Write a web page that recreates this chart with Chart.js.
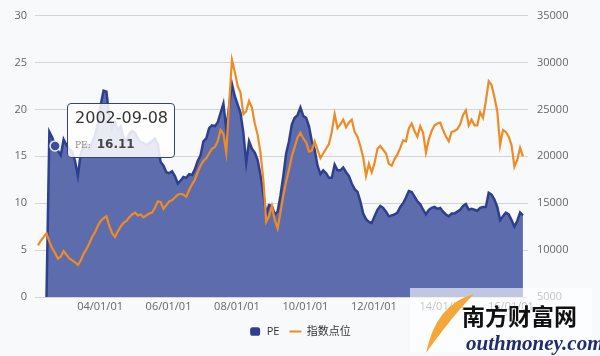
<!DOCTYPE html>
<html><head><meta charset="utf-8">
<script src="https://cdn.jsdelivr.net/npm/chart.js@4.4.0/dist/chart.umd.min.js"></script>
<style>
html,body{margin:0;padding:0;background:#f8f9fb;}
#wrap{position:relative;width:600px;height:356px;}
#tip{position:absolute;display:none;box-sizing:border-box;width:108px;height:55px;background:rgba(255,255,255,0.86);border:1.5px solid #34427c;border-radius:4px;padding:4px 0 0 7px;color:#333;pointer-events:none;}
#tip .t{font:16px 'DejaVu Sans',sans-serif;line-height:19px;}
#tip .b{margin-top:9px;line-height:14px;}
#tip .k{font:9px 'DejaVu Serif',serif;color:#888;}
#tip .v{font:bold 12px 'DejaVu Sans',sans-serif;color:#444;margin-left:6px;}
</style></head><body>
<div id="wrap"><canvas id="c" width="600" height="356"></canvas><div id="tip"></div></div>
<script>
const dates = [
 '2002-03-08','2002-04-08','2002-05-08','2002-06-08','2002-07-08','2002-08-08','2002-09-08','2002-10-08','2002-11-08','2002-12-08',
 '2003-01-08','2003-02-08','2003-03-08','2003-04-08','2003-05-08','2003-06-08','2003-07-08','2003-08-08','2003-09-08','2003-10-08','2003-11-08','2003-12-08',
 '2004-01-08','2004-02-08','2004-03-08','2004-04-08','2004-05-08','2004-06-08','2004-07-08','2004-08-08','2004-09-08','2004-10-08','2004-11-08','2004-12-08',
 '2005-01-08','2005-02-08','2005-03-08','2005-04-08','2005-05-08','2005-06-08','2005-07-08','2005-08-08','2005-09-08','2005-10-08','2005-11-08','2005-12-08',
 '2006-01-08','2006-02-08','2006-03-08','2006-04-08','2006-05-08','2006-06-08','2006-07-08','2006-08-08','2006-09-08','2006-10-08','2006-11-08','2006-12-08',
 '2007-01-08','2007-02-08','2007-03-08','2007-04-08','2007-05-08','2007-06-08','2007-07-08','2007-08-08','2007-09-08','2007-10-08','2007-11-08','2007-12-08',
 '2008-01-08','2008-02-08','2008-03-08','2008-04-08','2008-05-08','2008-06-08','2008-07-08','2008-08-08','2008-09-08','2008-10-08','2008-11-08','2008-12-08',
 '2009-01-08','2009-02-08','2009-03-08','2009-04-08','2009-05-08','2009-06-08','2009-07-08','2009-08-08','2009-09-08','2009-10-08','2009-11-08','2009-12-08',
 '2010-01-08','2010-02-08','2010-03-08','2010-04-08','2010-05-08','2010-06-08','2010-07-08','2010-08-08','2010-09-08','2010-10-08','2010-11-08','2010-12-08',
 '2011-01-08','2011-02-08','2011-03-08','2011-04-08','2011-05-08','2011-06-08','2011-07-08','2011-08-08','2011-09-08','2011-10-08','2011-11-08','2011-12-08',
 '2012-01-08','2012-02-08','2012-03-08','2012-04-08','2012-05-08','2012-06-08','2012-07-08','2012-08-08','2012-09-08','2012-10-08','2012-11-08','2012-12-08',
 '2013-01-08','2013-02-08','2013-03-08','2013-04-08','2013-05-08','2013-06-08','2013-07-08','2013-08-08','2013-09-08','2013-10-08','2013-11-08','2013-12-08',
 '2014-01-08','2014-02-08','2014-03-08','2014-04-08','2014-05-08','2014-06-08','2014-07-08','2014-08-08','2014-09-08','2014-10-08','2014-11-08','2014-12-08',
 '2015-01-08','2015-02-08','2015-03-08','2015-04-08','2015-05-08','2015-06-08','2015-07-08','2015-08-08','2015-09-08','2015-10-08','2015-11-08','2015-12-08',
 '2016-01-08','2016-02-08','2016-03-08','2016-04-08','2016-05-08'
];
const peValues = [
 null,null,null,0,17.6,17.0,16.11,15.6,15.1,16.8,
 16.2,15.8,15.5,14.5,12.9,15.3,16.0,16.3,15.8,16.5,17.2,18.5,
 20.5,22.0,21.9,19.2,18.0,18.6,17.8,18.2,17.0,16.6,17.4,17.7,
 17.5,16.9,16.5,16.4,16.2,16.4,16.6,16.9,16.3,14.4,14.0,13.3,
 13.2,13.4,12.9,12.1,12.4,12.8,12.7,13.1,13.0,13.6,14.5,15.1,
 16.6,16.9,18.0,18.3,18.2,18.6,19.6,20.6,17.9,20.3,22.7,21.4,
 20.5,19.6,17.5,14.3,16.6,15.8,15.4,14.6,13.0,11.0,8.8,9.8,
 9.7,8.8,9.1,10.8,12.9,15.3,16.6,18.4,19.1,19.4,20.2,19.3,
 19.1,18.2,16.6,15.7,14.0,13.1,13.5,13.2,12.7,12.7,14.1,13.5,
 13.5,13.8,13.3,12.9,12.1,11.5,11.2,10.2,8.9,8.3,8.0,7.9,
 8.6,9.3,9.7,9.5,9.1,8.6,8.7,8.8,9.0,9.6,10.0,10.6,
 11.3,11.2,10.7,10.2,9.9,9.3,8.8,9.3,9.5,9.6,9.4,9.5,
 9.1,8.8,8.6,8.9,8.9,9.1,9.3,9.7,9.9,9.3,9.4,9.3,
 9.2,9.5,9.6,9.6,11.1,10.9,10.4,9.6,8.2,8.6,9.0,8.8,
 8.2,7.5,8.1,9.0,8.7
];
const indexValues = [
 10500,11000,11400,11800,10900,10200,9700,9100,9300,9900,
 9500,9100,8900,8700,8400,8900,9600,10100,10700,11400,11900,12600,
 13100,13400,13600,12600,11800,11400,12000,12500,12900,13100,13500,13800,
 14000,13700,13800,13500,13700,13900,14000,14500,15200,15100,14400,14800,
 15200,15300,15600,15900,16000,15900,15700,16400,17000,17500,18300,19000,
 19500,19800,20300,20800,21000,21600,22800,22400,20400,25500,30300,29000,
 27500,26800,24500,24800,25900,25200,23500,22300,20400,17500,13000,13600,
 14700,13200,12300,14000,15800,17300,18600,20000,21000,22000,22500,21900,
 21500,20500,20600,21600,20700,19800,20300,20800,21300,22600,24500,23000,
 23400,23900,23100,23600,23900,22600,22100,21100,19900,17900,19200,18300,
 19300,20800,21100,20700,20300,19200,19000,19700,20200,20900,21700,21600,
 23000,23500,22700,22100,23200,22500,20400,21800,22700,23300,23500,23600,
 22800,22100,21600,22600,22700,22900,23400,24400,24900,23300,23900,23300,
 23300,24700,24100,25900,28000,27600,26300,24800,21200,22800,22600,22100,
 21200,18900,19600,20900,20000
];
const seriesNames = ['PE', '指数点位'];
const tickDates = ['2004-01-01','2006-01-01','2008-01-01','2010-01-01','2012-01-01','2014-01-01','2016-01-01'];
const tickLabels = ['04/01/01','06/01/01','08/01/01','10/01/01','12/01/01','14/01/01','16/01/01'];
const xRange = ['2002-02-07','2016-07-01'];
const highlightDate = '2002-09-08';

const PE_LINE = '#2f3f8f', PE_FILL = '#5d6cad', IDX = '#ef8b25';

function monthNum(d){ const p = d.split('-').map(Number); return (p[0]-2000)*12 + (p[1]-1) + (p[2]-1)/30.4; }

Chart.defaults.font.family = "'Open Sans','Noto Sans CJK SC',sans-serif";
Chart.defaults.font.size = 11;

const watermark = {
  id: 'watermark',
  afterDraw(chart){
    const c = chart.ctx;
    c.save();
    c.fillStyle = 'rgba(255,255,255,0.62)';
    c.fillRect(410, 288, 182, 64);
    c.fillStyle = '#f5a83a';
    c.beginPath();
    c.moveTo(474, 294);
    c.quadraticCurveTo(436, 304, 426, 353);
    c.quadraticCurveTo(454, 314, 474, 294);
    c.fill();
    c.fillStyle = '#111';
    c.font = "bold 23px 'Noto Sans CJK SC'";
    c.fillText('南方财富网', 462, 316);
    c.fillStyle = '#1f2d6e';
    c.font = "italic bold 21px 'Liberation Serif'";
    c.fillText('outhmoney.com', 466, 345);
    c.restore();
  }
};

const chart = new Chart(document.getElementById('c'), {
  type: 'line',
  data: { datasets: [
    { label: seriesNames[0], data: dates.map((d,i)=>({x: monthNum(d), y: peValues[i]})),
      borderColor: PE_LINE, backgroundColor: PE_FILL, fill: 'origin', borderWidth: 2.5,
      pointRadius: 0, pointHoverRadius: 5, pointHoverBorderWidth: 1.5,
      pointHoverBackgroundColor: '#3b4d9b', pointHoverBorderColor: '#e3e9f7',
      tension: 0, yAxisID: 'y', order: 2 },
    { label: seriesNames[1], data: dates.map((d,i)=>({x: monthNum(d), y: indexValues[i]})),
      borderColor: IDX, backgroundColor: IDX, fill: false, borderWidth: 2.2,
      pointRadius: 0, pointHoverRadius: 0, tension: 0, yAxisID: 'y1', order: 1 }
  ]},
  options: {
    responsive: false, animation: false, events: [],
    layout: { padding: { top: 12, bottom: 9, left: 0, right: 0 } },
    scales: {
      x: { type: 'linear', min: monthNum(xRange[0]), max: monthNum(xRange[1]),
        grid: { display: false, drawTicks: false }, border: { display: false },
        afterBuildTicks: s => { s.ticks = tickDates.map(d => ({ value: monthNum(d) })); },
        ticks: { autoSkip: false, maxRotation: 0, padding: 3, color: '#666',
          callback: v => { const i = tickDates.findIndex(d => Math.abs(monthNum(d) - v) < 0.01); return i >= 0 ? tickLabels[i] : ''; } },
        afterFit: s => { s.height = 19; } },
      y: { position: 'left', min: 0, max: 30, ticks: { stepSize: 5, padding: 8, color: '#666' },
        grid: { color: '#d4d4d4', drawTicks: false }, border: { display: false },
        afterFit: s => { s.width = 35; } },
      y1: { position: 'right', min: 5000, max: 35000,
        ticks: { stepSize: 5000, padding: 9, color: '#666', callback: v => String(v) },
        grid: { drawOnChartArea: false, drawTicks: false }, border: { display: false },
        afterFit: s => { s.width = 72; } }
    },
    plugins: {
      legend: { position: 'bottom', labels: {
        usePointStyle: true, pointStyleWidth: 12, boxHeight: 7, padding: 10, color: '#333',
        sort: (a, b) => a.datasetIndex - b.datasetIndex,
        generateLabels: chart => Chart.defaults.plugins.legend.labels.generateLabels(chart).map(it => {
          if (it.datasetIndex === 0) { it.pointStyle = 'rectRounded'; it.fillStyle = PE_LINE; it.strokeStyle = PE_LINE; it.lineWidth = 0; }
          else { it.pointStyle = 'line'; it.strokeStyle = IDX; it.fillStyle = IDX; it.lineWidth = 2; }
          return it;
        }) } },
      tooltip: { enabled: false,
        external: ({ tooltip }) => {
          const el = document.getElementById('tip');
          if (!tooltip.opacity || !tooltip.dataPoints || !tooltip.dataPoints.length) { el.style.display = 'none'; return; }
          const dp = tooltip.dataPoints[0];
          el.innerHTML = '<div class="t">' + dates[dp.dataIndex] + '</div><div class="b"><span class="k">' + dp.dataset.label + ':</span><span class="v">' + dp.raw.y.toFixed(2) + '</span></div>';
          el.style.left = (tooltip.caretX + 12) + 'px';
          el.style.top = (tooltip.caretY - 43) + 'px';
          el.style.display = 'block';
        } }
    }
  },
  plugins: [watermark]
});

const hi = dates.indexOf(highlightDate);
chart.setActiveElements([{ datasetIndex: 0, index: hi }]);
chart.tooltip.setActiveElements([{ datasetIndex: 0, index: hi }], { x: 0, y: 0 });
chart.render();
</script>
</body></html>
